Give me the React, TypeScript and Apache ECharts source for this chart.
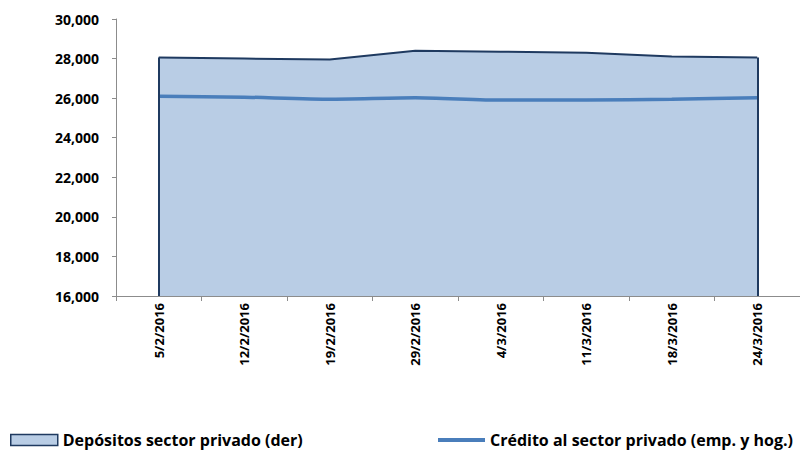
import React, { useEffect, useRef } from "react";
import * as echarts from "echarts";

const categories = ["5/2/2016", "12/2/2016", "19/2/2016", "29/2/2016", "4/3/2016", "11/3/2016", "18/3/2016", "24/3/2016"];
const depositos = [28050, 28000, 27950, 28400, 28350, 28300, 28100, 28050];
const credito = [26100, 26050, 25950, 26020, 25900, 25900, 25950, 26020];
const yTicks = { min: 16000, max: 30000, interval: 2000 };
const depName = "Depósitos sector privado (der)";
const credName = "Crédito al sector privado (emp. y hog.)";

const FONT = "'Open Sans', 'Noto Sans', sans-serif";
const NAVY = "#1F3A60";
const FILL = "#B9CDE5";
const BLUE = "#4A7EBB";
const GREY = "#8C8C8C";

export default function App() {
  const ref = useRef<HTMLDivElement>(null);
  useEffect(() => {
    if (!ref.current) return;
    const chart = echarts.init(ref.current, null, { renderer: "svg" });
    const last = categories.length - 1;
    chart.setOption({
      animation: false,
      backgroundColor: "#ffffff",
      grid: { left: 116, top: 19, width: 688, height: 277, containLabel: false },
      xAxis: {
        type: "category",
        data: categories,
        boundaryGap: true,
        axisLine: { show: true, lineStyle: { color: GREY, width: 1 } },
        axisTick: { show: true, interval: 0, length: 5, lineStyle: { color: GREY } },
        axisLabel: {
          interval: 0,
          rotate: 90,
          margin: 7,
          color: "#000",
          fontWeight: "bold",
          fontSize: 13,
          fontFamily: FONT,
        },
        splitLine: { show: false },
      },
      yAxis: {
        type: "value",
        min: yTicks.min,
        max: yTicks.max,
        interval: yTicks.interval,
        axisLine: { show: true, lineStyle: { color: GREY, width: 1 } },
        axisTick: { show: true, length: 4, lineStyle: { color: GREY } },
        axisLabel: {
          color: "#000",
          fontWeight: "bold",
          fontSize: 14,
          fontFamily: FONT,
          margin: 17,
          formatter: (v: number) => v.toLocaleString("en-US"),
        },
        splitLine: { show: false },
      },
      legend: [
        {
          left: 10,
          top: 432,
          padding: 0,
          itemWidth: 47,
          itemHeight: 11,
          icon: "rect",
          data: [{ name: depName, itemStyle: { color: FILL, borderColor: NAVY, borderWidth: 1.5 } }],
          textStyle: { color: "#000", fontWeight: "bold", fontSize: 16, fontFamily: FONT },
        },
        {
          left: 438,
          top: 432,
          padding: 0,
          itemWidth: 47,
          itemHeight: 4,
          icon: "rect",
          data: [{ name: credName, itemStyle: { color: BLUE } }],
          textStyle: { color: "#000", fontWeight: "bold", fontSize: 16, fontFamily: FONT },
        },
      ],
      series: [
        {
          name: depName,
          type: "line",
          data: depositos,
          symbol: "none",
          z: 1,
          lineStyle: { color: NAVY, width: 2 },
          itemStyle: { color: FILL },
          areaStyle: { color: FILL, opacity: 1 },
          markLine: {
            silent: true,
            symbol: ["none", "none"],
            label: { show: false },
            lineStyle: { color: NAVY, width: 2, type: "solid" },
            data: [
              [{ coord: [0, yTicks.min] }, { coord: [0, depositos[0]] }],
              [{ coord: [last, yTicks.min] }, { coord: [last, depositos[last]] }],
            ],
          },
        },
        {
          name: credName,
          type: "line",
          data: credito,
          symbol: "none",
          smooth: 0.2,
          z: 3,
          lineStyle: { color: BLUE, width: 3.5 },
          itemStyle: { color: BLUE },
        },
      ],
    });
    return () => chart.dispose();
  }, []);
  return <div ref={ref} style={{ position: "fixed", left: 0, top: 0, width: 800, height: 456 }} />;
}
